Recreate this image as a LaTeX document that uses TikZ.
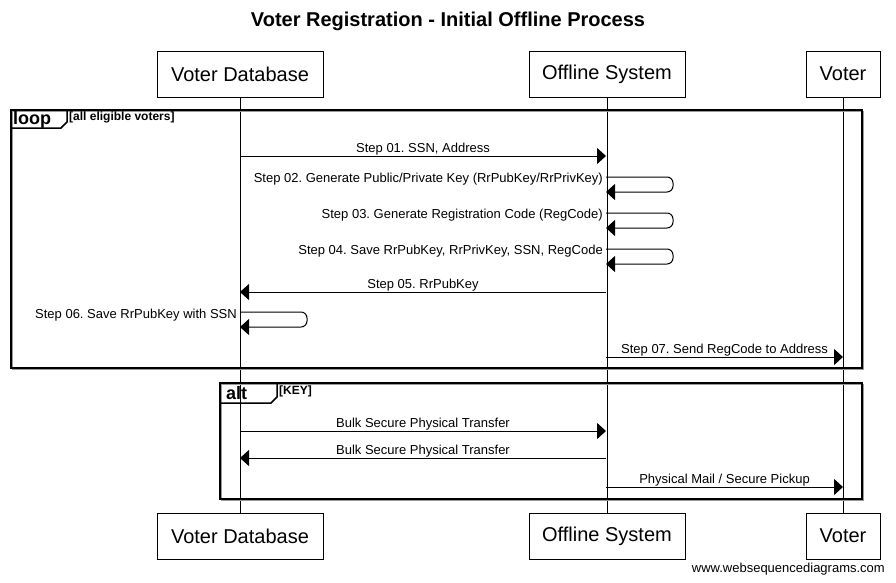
\documentclass[tikz,border=0pt]{standalone}
\usepackage{fontspec}
\setmainfont{Liberation Sans}
\usetikzlibrary{arrows.meta}
\frenchspacing
\begin{document}
\begin{tikzpicture}[x=1pt,y=-1pt,
  part/.style={draw, line width=1pt, minimum height=46pt, inner sep=0pt, font=\fontsize{20}{22}\selectfont},
  msg/.style={line width=1pt, -{Triangle[length=9pt,width=16pt]}},
  selfmsg/.style={msg, rounded corners=6pt},
  lbl/.style={font=\fontsize{13}{15}\selectfont, inner sep=0pt, anchor=base},
  slbl/.style={font=\fontsize{13}{15}\selectfont, inner sep=0pt, anchor=base east},
  framebox/.style={line width=1.8pt},
  frameshadow/.style={line width=1pt, draw=black!40},
  tabline/.style={line width=1.5pt},
  tablbl/.style={font=\bfseries\fontsize{18}{20}\selectfont, inner sep=0pt, anchor=base west},
  guard/.style={font=\bfseries\fontsize{12}{14}\selectfont, inner sep=0pt, anchor=base west},
  life/.style={line width=1pt}]
\useasboundingbox (0,0) rectangle (896,582);
\fill[white] (0,0) rectangle (896,582);

% title
\node[font=\bfseries\fontsize{20}{24}\selectfont, inner sep=0pt] (title) at (448,21) {Voter Registration - Initial Offline Process};

% participants
\node[part, minimum width=166pt] (vdT) at (240,74) {Voter Database};
\node[part, minimum width=156pt] (osT) at (607,74) {Offline System};
\node[part, minimum width=74pt] (vT) at (843,74) {Voter};
\node[part, minimum width=166pt] (vdB) at (240,536) {Voter Database};
\node[part, minimum width=156pt] (osB) at (607,536) {Offline System};
\node[part, minimum width=74pt] (vB) at (843,536) {Voter};

% lifelines
\draw[life] (vdT.south) -- (vdB.north);
\draw[life] (osT.south) -- (osB.north);
\draw[life] (vT.south) -- (vB.north);

% loop frame
\draw[frameshadow] (12,111) rectangle (863.5,369.5);
\draw[framebox] (11,110) rectangle (862,368);
\draw[tabline] (67,110) -- (67,122) -- (61,128) -- (11,128);
\node[tablbl] (looplbl) at (13,124.5) {loop};
\node[guard] (loopguard) at (69,120) {[all eligible voters]};

% alt frame
\draw[frameshadow] (221,384) rectangle (863.5,500.5);
\draw[framebox] (220,383) rectangle (862,499);
\draw[tabline] (277,383) -- (277,397) -- (271,403) -- (220,403);
\node[tablbl] (altlbl) at (226,399.5) {alt};
\node[guard] (altguard) at (279,394) {[KEY]};

% message end points on lifelines
\coordinate (a1) at (240,156); \coordinate (b1) at (606,156);
\coordinate (a2) at (606,177); \coordinate (b2) at (606,192);
\coordinate (a3) at (606,213); \coordinate (b3) at (606,228);
\coordinate (a4) at (606,249); \coordinate (b4) at (606,264);
\coordinate (a5) at (606,292); \coordinate (b5) at (240,292);
\coordinate (a6) at (240,312); \coordinate (b6) at (240,327);
\coordinate (a7) at (606,357); \coordinate (b7) at (843,357);
\coordinate (a8) at (240,431); \coordinate (b8) at (606,431);
\coordinate (a9) at (606,458); \coordinate (b9) at (240,458);
\coordinate (a10) at (606,487); \coordinate (b10) at (843,487);

% messages
\draw[msg] (a1) -- node[lbl, above=0.5pt] (l1) {Step 01. SSN, Address} (b1);
\draw[selfmsg] (a2) -- ++(67,0) -- ++(0,15) -- (b2);
\node[slbl] (l2) at (603,182) {Step 02. Generate Public/Private Key (RrPubKey/RrPrivKey)};
\draw[selfmsg] (a3) -- ++(67,0) -- ++(0,15) -- (b3);
\node[slbl] (l3) at (603,218) {Step 03. Generate Registration Code (RegCode)};
\draw[selfmsg] (a4) -- ++(67,0) -- ++(0,15) -- (b4);
\node[slbl] (l4) at (603,254) {Step 04. Save RrPubKey, RrPrivKey, SSN, RegCode};
\draw[msg] (a5) -- node[lbl, above=0.5pt] (l5) {Step 05. RrPubKey} (b5);
\draw[selfmsg] (a6) -- ++(67,0) -- ++(0,15) -- (b6);
\node[slbl] (l6) at (237,318) {Step 06. Save RrPubKey with SSN};
\draw[msg] (a7) -- node[lbl, above=0.5pt] (l7) {Step 07. Send RegCode to Address} (b7);
\draw[msg] (a8) -- node[lbl, above=0.5pt] (l8) {Bulk Secure Physical Transfer} (b8);
\draw[msg] (a9) -- node[lbl, above=0.5pt] (l9) {Bulk Secure Physical Transfer} (b9);
\draw[msg] (a10) -- node[lbl, above=0.5pt] (l10) {Physical Mail / Secure Pickup} (b10);

% watermark
\node[font=\fontsize{13}{15}\selectfont, inner sep=0pt, anchor=base east] (wm) at (885,572) {www.websequencediagrams.com};
\end{tikzpicture}
\end{document}
